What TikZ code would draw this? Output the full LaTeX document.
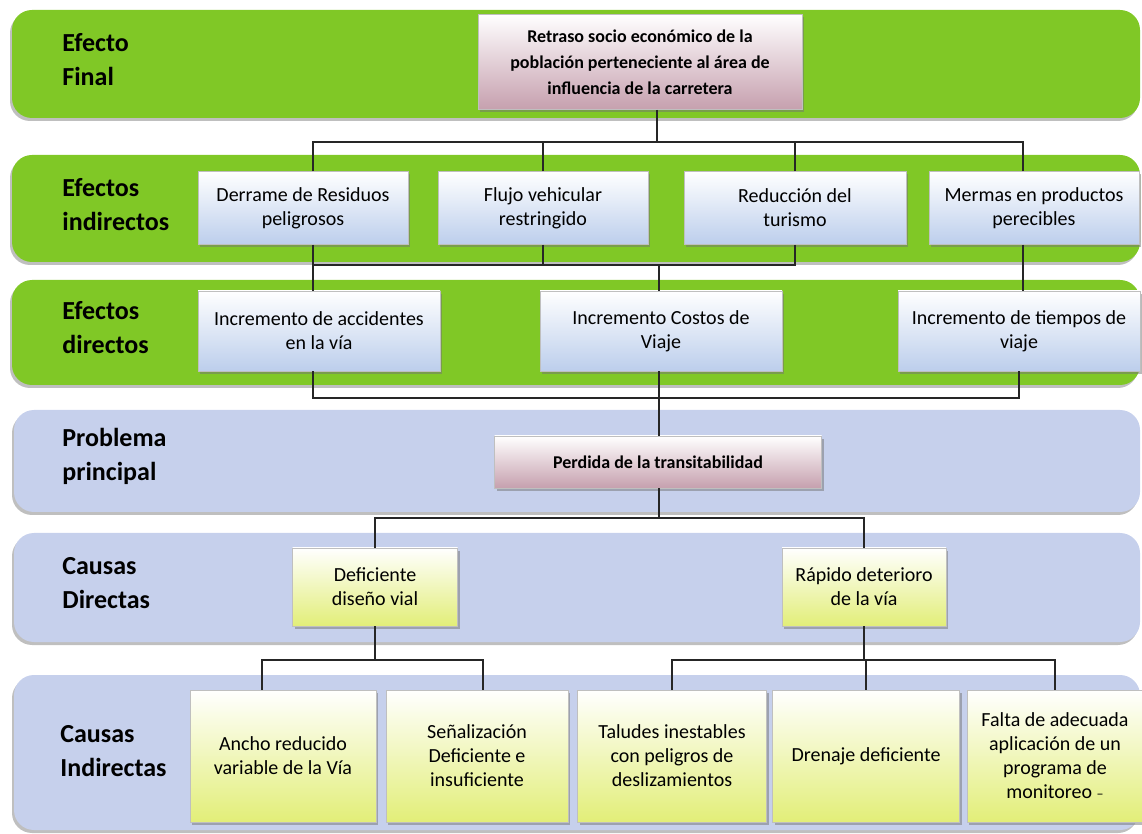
\documentclass[tikz,border=0pt]{standalone}
\usepackage{fontspec}
\setmainfont{Carlito}
\usetikzlibrary{shadows}
\definecolor{verde}{RGB}{128,200,38}
\definecolor{lila}{RGB}{198,208,236}
\definecolor{rosa}{RGB}{198,160,174}
\definecolor{celeste}{RGB}{188,206,236}
\definecolor{limon}{RGB}{226,238,120}
\begin{document}
\begin{tikzpicture}[x=0.5pt,y=-0.5pt,
  banda/.style={rounded corners=10pt,drop shadow={shadow xshift=-1pt,shadow yshift=-1.5pt,fill=black!50}},
  caja/.style={draw=black!25,inner sep=0pt,align=center,font=\fontsize{10}{12}\selectfont,
    drop shadow={shadow xshift=1pt,shadow yshift=-1.5pt,fill=black!55}},
  rosado/.style={caja,top color=white,bottom color=rosa},
  azulado/.style={caja,top color=white,middle color=white,bottom color=celeste},
  amarillo/.style={caja,top color=white,middle color=white,bottom color=limon},
  etiqueta/.style={anchor=west,align=left,inner sep=0pt,font=\fontsize{13}{17}\selectfont\bfseries},
  conector/.style={draw=black!85,line width=0.9pt}]
  \useasboundingbox (0,0) rectangle (1142,834);
  % bandas
  \fill[banda,fill=verde] (12,10) rectangle (1140,118);
  \fill[banda,fill=verde] (12,155) rectangle (1140,262);
  \fill[banda,fill=verde] (12,280) rectangle (1140,385);
  \fill[banda,fill=lila] (14,410) rectangle (1140,512);
  \fill[banda,fill=lila] (14,533) rectangle (1140,642);
  \fill[banda,fill=lila] (14,675) rectangle (1140,830);
  \node[etiqueta] (e1) at (62,60) {Efecto\\Final};
  \node[etiqueta] (e2) at (62,205) {Efectos\\indirectos};
  \node[etiqueta] (e3) at (62,328) {Efectos\\directos};
  \node[etiqueta] (e4) at (62,456) {Problema\\principal};
  \node[etiqueta] (e5) at (62,583) {Causas\\Directas};
  \node[etiqueta] (e6) at (60,751) {Causas\\Indirectas};
  % cajas
  \node[rosado,minimum width=162pt,minimum height=47.5pt,font=\fontsize{9}{13}\selectfont\bfseries] (0) at (640,62)
    {Retraso socio económico de la\\población perteneciente al área de\\influencia de la carretera};
  \node[azulado,minimum width=105pt,minimum height=36.5pt] (1) at (303,208) {Derrame de Residuos\\peligrosos};
  \node[azulado,minimum width=105pt,minimum height=36.5pt] (2) at (543,208) {Flujo vehicular\\restringido};
  \node[azulado,minimum width=111pt,minimum height=36.5pt] (3) at (795,208) {Reducción del\\turismo};
  \node[azulado,minimum width=105pt,minimum height=36.5pt] (4) at (1034,208) {Mermas en productos\\perecibles};
  \node[azulado,minimum width=121pt,minimum height=40pt] (5) at (319,331) {Incremento de accidentes\\en la vía};
  \node[azulado,minimum width=121pt,minimum height=40pt] (6) at (661,331) {Incremento Costos de\\Viaje};
  \node[azulado,minimum width=121pt,minimum height=40pt] (7) at (1019,331) {Incremento de tiempos de\\viaje};
  \node[rosado,minimum width=163.5pt,minimum height=26pt,font=\fontsize{9}{12}\selectfont\bfseries] (8) at (658,462)
    {Perdida de la transitabilidad};
  \node[amarillo,minimum width=82.5pt,minimum height=39pt] (9) at (375,587) {Deficiente\\diseño vial};
  \node[amarillo,minimum width=82pt,minimum height=39pt] (10) at (864,587) {Rápido deterioro\\de la vía};
  \node[amarillo,minimum width=93pt,minimum height=66pt] (11) at (283,756) {Ancho reducido\\variable de la Vía};
  \node[amarillo,minimum width=91pt,minimum height=66pt] (12) at (477,756) {Señalización\\Deficiente e\\insuficiente};
  \node[amarillo,minimum width=94.5pt,minimum height=66pt] (13) at (672,756) {Taludes inestables\\con peligros de\\deslizamientos};
  \node[amarillo,minimum width=93.5pt,minimum height=66pt] (14) at (866,756) {Drenaje deficiente};
  \node[amarillo,minimum width=88pt,minimum height=66pt] (15) at (1055,756) {Falta de adecuada\\aplicación de un\\programa de\\monitoreo {\scriptsize --}};
  % conectores
  \coordinate (t1) at (657,142);
  \coordinate (t2) at (659,265);
  \coordinate (t3) at (659,398);
  \coordinate (t4) at (659,518);
  \coordinate (t5) at (375,660);
  \coordinate (t6) at (864,660);
  \draw[conector] (t1 |- 0.south) -- (t1);
  \draw[conector] ([xshift=5pt]1.north) |- (t1);
  \draw[conector] (2.north) |- (t1);
  \draw[conector] (3.north) |- (t1);
  \draw[conector] ([xshift=-5.5pt]4.north) |- (t1);
  \draw[conector] ([xshift=5pt]1.south) -- ([xshift=-3pt]5.north);
  \draw[conector] (2.south) |- (t2);
  \draw[conector] (3.south) |- (t2);
  \draw[conector] ([xshift=5pt]1.south |- t2) -- (t2);
  \draw[conector] (t2) -- (t2 |- 6.north);
  \draw[conector] ([xshift=-5.5pt]4.south) -- ([xshift=-5.5pt]4.south |- 7.north);
  \draw[conector] ([xshift=-3pt]5.south) |- (t3);
  \draw[conector] (7.south) |- (t3);
  \draw[conector] (t3 |- 6.south) -- (t3 |- 8.north);
  \draw[conector] (t4 |- 8.south) -- (t4);
  \draw[conector] (9.north) |- (t4);
  \draw[conector] (10.north) |- (t4);
  \draw[conector] (9.south) -- (t5);
  \draw[conector] ([xshift=-10.5pt]11.north) |- (t5);
  \draw[conector] ([xshift=3pt]12.north) |- (t5);
  \draw[conector] (10.south) -- (t6);
  \draw[conector] (13.north) |- (t6);
  \draw[conector] (14.north) |- (t6);
  \draw[conector] (15.north) |- (t6);
\end{tikzpicture}
\end{document}
